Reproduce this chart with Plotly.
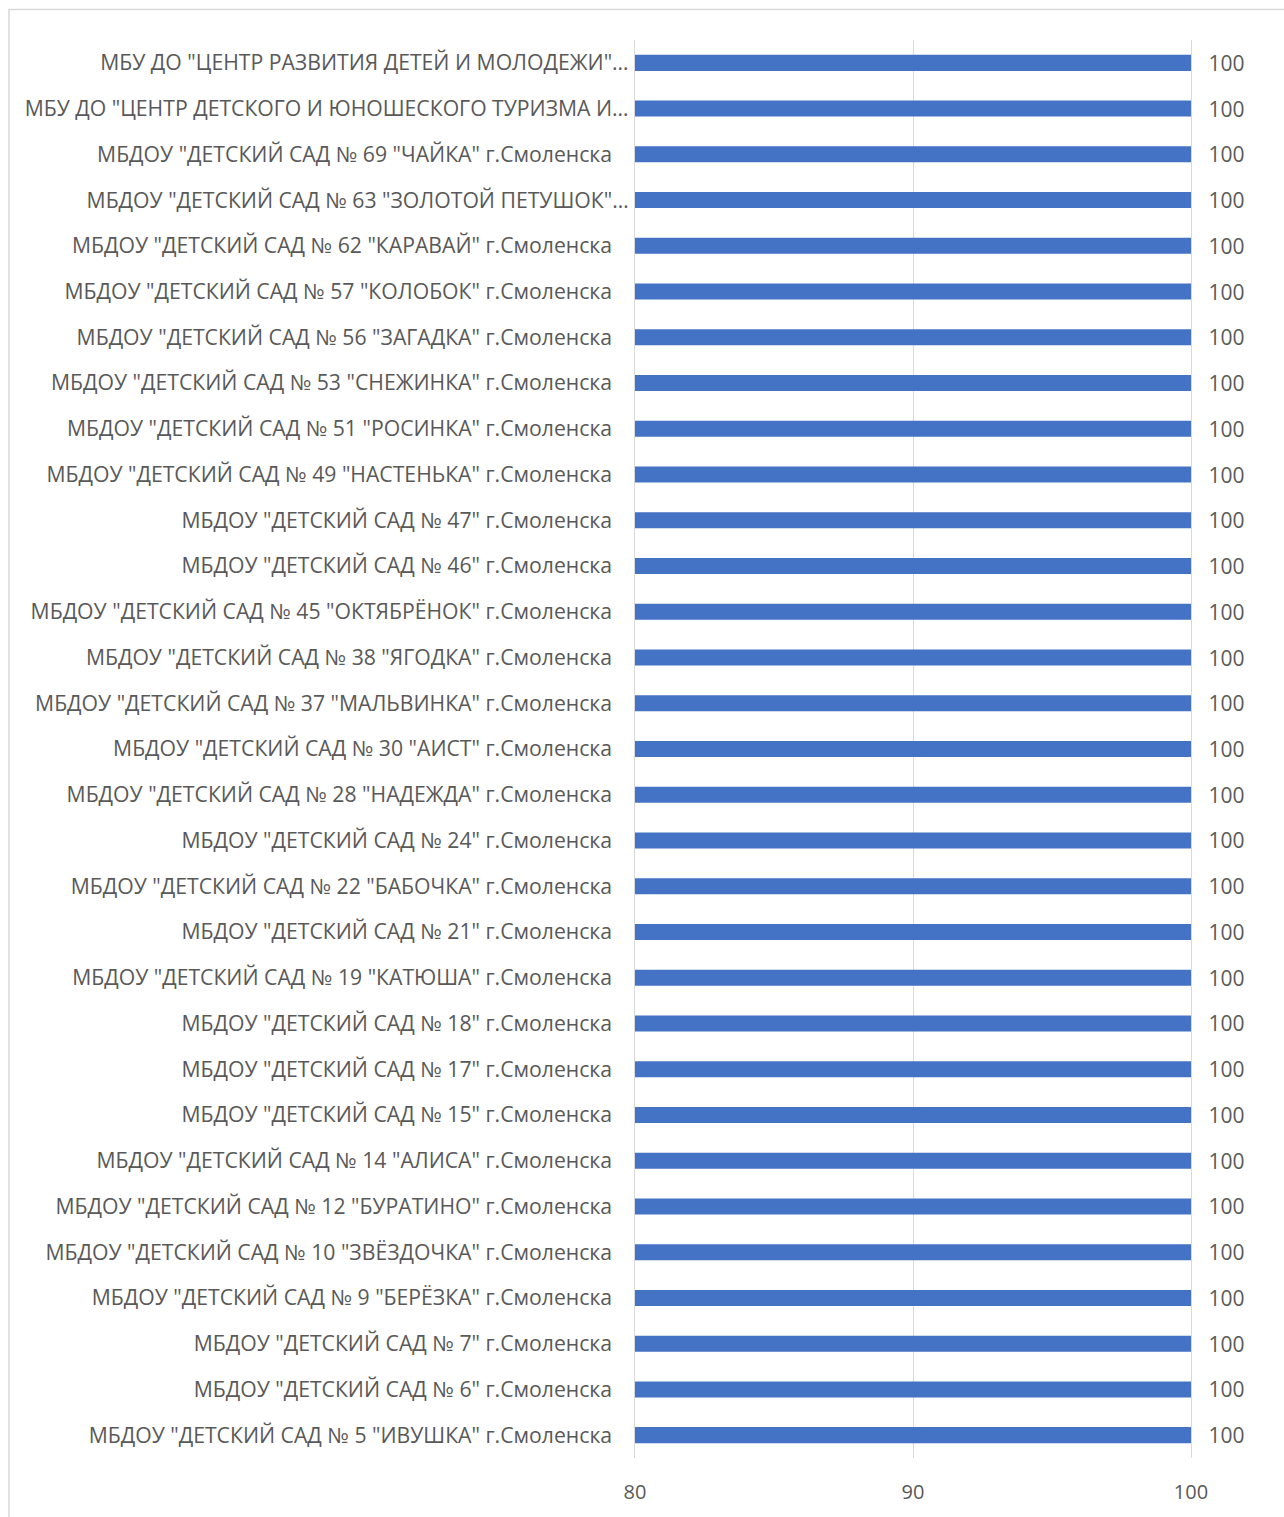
import plotly.graph_objects as go

NB = "\u00a0\u00a0\u00a0"  # trailing spaces as in the source labels
categories = [
    'МБУ ДО "ЦЕНТР РАЗВИТИЯ ДЕТЕЙ И МОЛОДЕЖИ"…',
    'МБУ ДО "ЦЕНТР ДЕТСКОГО И ЮНОШЕСКОГО ТУРИЗМА И…',
    'МБДОУ "ДЕТСКИЙ САД № 69 "ЧАЙКА" г.Смоленска' + NB,
    'МБДОУ "ДЕТСКИЙ САД № 63 "ЗОЛОТОЙ ПЕТУШОК"…',
    'МБДОУ "ДЕТСКИЙ САД № 62 "КАРАВАЙ" г.Смоленска' + NB,
    'МБДОУ "ДЕТСКИЙ САД № 57 "КОЛОБОК" г.Смоленска' + NB,
    'МБДОУ "ДЕТСКИЙ САД № 56 "ЗАГАДКА" г.Смоленска' + NB,
    'МБДОУ "ДЕТСКИЙ САД № 53 "СНЕЖИНКА" г.Смоленска' + NB,
    'МБДОУ "ДЕТСКИЙ САД № 51 "РОСИНКА" г.Смоленска' + NB,
    'МБДОУ "ДЕТСКИЙ САД № 49 "НАСТЕНЬКА" г.Смоленска' + NB,
    'МБДОУ "ДЕТСКИЙ САД № 47" г.Смоленска' + NB,
    'МБДОУ "ДЕТСКИЙ САД № 46" г.Смоленска' + NB,
    'МБДОУ "ДЕТСКИЙ САД № 45 "ОКТЯБРЁНОК" г.Смоленска' + NB,
    'МБДОУ "ДЕТСКИЙ САД № 38 "ЯГОДКА" г.Смоленска' + NB,
    'МБДОУ "ДЕТСКИЙ САД № 37 "МАЛЬВИНКА" г.Смоленска' + NB,
    'МБДОУ "ДЕТСКИЙ САД № 30 "АИСТ" г.Смоленска' + NB,
    'МБДОУ "ДЕТСКИЙ САД № 28 "НАДЕЖДА" г.Смоленска' + NB,
    'МБДОУ "ДЕТСКИЙ САД № 24" г.Смоленска' + NB,
    'МБДОУ "ДЕТСКИЙ САД № 22 "БАБОЧКА" г.Смоленска' + NB,
    'МБДОУ "ДЕТСКИЙ САД № 21" г.Смоленска' + NB,
    'МБДОУ "ДЕТСКИЙ САД № 19 "КАТЮША" г.Смоленска' + NB,
    'МБДОУ "ДЕТСКИЙ САД № 18" г.Смоленска' + NB,
    'МБДОУ "ДЕТСКИЙ САД № 17" г.Смоленска' + NB,
    'МБДОУ "ДЕТСКИЙ САД № 15" г.Смоленска' + NB,
    'МБДОУ "ДЕТСКИЙ САД № 14 "АЛИСА" г.Смоленска' + NB,
    'МБДОУ "ДЕТСКИЙ САД № 12 "БУРАТИНО" г.Смоленска' + NB,
    'МБДОУ "ДЕТСКИЙ САД № 10 "ЗВЁЗДОЧКА" г.Смоленска' + NB,
    'МБДОУ "ДЕТСКИЙ САД № 9 "БЕРЁЗКА" г.Смоленска' + NB,
    'МБДОУ "ДЕТСКИЙ САД № 7" г.Смоленска' + NB,
    'МБДОУ "ДЕТСКИЙ САД № 6" г.Смоленска' + NB,
    'МБДОУ "ДЕТСКИЙ САД № 5 "ИВУШКА" г.Смоленска' + NB,
]
values = [100] * len(categories)
x_ticks = [80, 90, 100]

FONT = "Open Sans, sans-serif"
TXT = "#595959"
GRID = "#D9D9D9"

fig = go.Figure(go.Bar(
    x=values, y=categories, orientation="h",
    marker=dict(color="#4472C4", line=dict(width=0)),
    width=0.35,
    texttemplate="\u00a0\u00a0\u2009%{x}", textposition="outside",
    constraintext="none",
    textfont=dict(family=FONT, size=21, color=TXT),
    cliponaxis=False,
))

W, H = 1284, 1517
L, R, T, B = 635, 93, 39.5, 56.5
pw, ph = W - L - R, H - T - B

fig.update_layout(
    width=W, height=H,
    margin=dict(l=L, r=R, t=T, b=B, pad=0),
    paper_bgcolor="white", plot_bgcolor="white",
    showlegend=False,
    font=dict(family=FONT, color=TXT, size=21),
    xaxis=dict(range=[80, 100], tickvals=x_ticks, showgrid=True,
               gridcolor=GRID, gridwidth=1.3, zeroline=False,
               showline=False, ticks="outside", ticklen=16,
               tickcolor="rgba(0,0,0,0)",
               tickfont=dict(family=FONT, size=20, color=TXT)),
    yaxis=dict(autorange="reversed", showgrid=False, zeroline=False,
               showline=True, mirror=True, linecolor=GRID, linewidth=1.3,
               ticks="outside", ticklen=1,
               tickcolor="rgba(0,0,0,0)",
               tickfont=dict(family=FONT, size=21.2, color=TXT)),
    shapes=[dict(type="rect", xref="paper", yref="paper",
                 x0=(9 - L) / pw, x1=(1300 - L) / pw,
                 y0=(H - B - 1530) / ph, y1=(H - B - 9) / ph,
                 line=dict(color=GRID, width=1.5),
                 fillcolor="rgba(0,0,0,0)", layer="below")],
)

fig.write_html(
    "out.html",
    config={"displayModeBar": False},
    post_script="document.body.style.margin='0';document.body.style.overflow='hidden';",
)
